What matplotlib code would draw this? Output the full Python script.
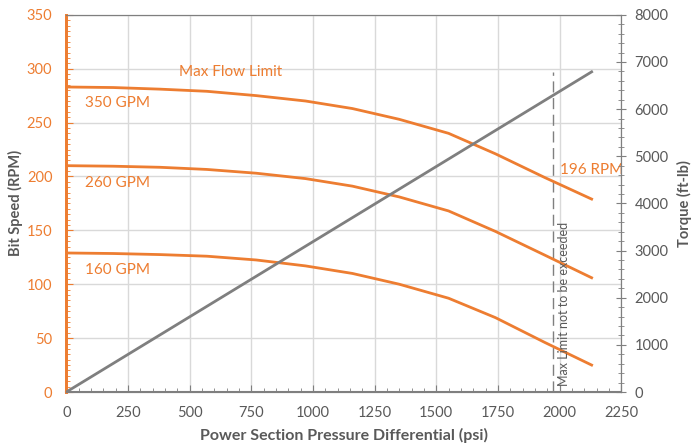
import matplotlib.pyplot as plt
from matplotlib.ticker import MultipleLocator

plt.rcParams['font.family'] = ['Lato', 'DejaVu Sans']

naranja = '#ED7D31'
gris = '#7F7F7F'
texto = '#595959'

# presion diferencial (psi)
presion = [0, 190, 380, 570, 770, 970, 1160, 1350, 1550, 1740, 1940, 2130]
# velocidad de la broca (RPM) por caudal
rpm_350 = [283, 282.5, 281, 279, 275, 270, 263, 253, 240, 221, 199, 179]
rpm_260 = [210, 209.5, 208.5, 206.5, 203, 198, 191, 181, 168, 149, 127, 106]
rpm_160 = [129, 128.5, 127.5, 126, 122.5, 117, 110, 100, 87, 69, 46, 25]
# torque (ft-lb)
torque_x = [0, 2130]
torque = [0, 6790]
limite_x = 1975
limite_y = 297

fig, ax = plt.subplots(figsize=(6.98, 4.48), dpi=100)
fig.subplots_adjust(left=0.095, right=0.89, top=0.967, bottom=0.125)
ax2 = ax.twinx()

for serie in [rpm_350, rpm_260, rpm_160]:
    ax.plot(presion, serie, color=naranja, lw=2, zorder=3)
ax2.plot(torque_x, torque, color=gris, lw=2, zorder=3)
ax.plot([limite_x, limite_x], [0, limite_y], color=gris, lw=1, ls=(0, (8, 4)), zorder=2)

ax.set_xlim(0, 2250)
ax.set_ylim(0, 350)
ax2.set_ylim(0, 8000)
ax.xaxis.set_major_locator(MultipleLocator(250))
ax.xaxis.set_minor_locator(MultipleLocator(50))
ax.yaxis.set_major_locator(MultipleLocator(50))
ax.yaxis.set_minor_locator(MultipleLocator(5))
ax2.yaxis.set_major_locator(MultipleLocator(1000))
ax2.yaxis.set_minor_locator(MultipleLocator(200))

ax.grid(True, which='major', color='#D9D9D9', lw=1)
ax.set_axisbelow(True)

for s in ['top', 'right', 'bottom']:
    ax.spines[s].set_color(gris)
    ax2.spines[s].set_color(gris)
ax.spines['left'].set_color(naranja)
ax2.spines['left'].set_color(naranja)
ax.spines['left'].set_linewidth(2)
ax2.spines['left'].set_linewidth(2)
ax.spines['bottom'].set_linewidth(1.5)

ax.tick_params(axis='x', which='both', direction='in', colors=gris, labelcolor=texto, labelsize=10.5, pad=10)
ax.tick_params(axis='x', which='major', length=5)
ax.tick_params(axis='x', which='minor', length=3)
ax.tick_params(axis='y', which='both', direction='in', colors=naranja, labelcolor=naranja, labelsize=10.5, pad=10)
ax.tick_params(axis='y', which='major', length=5)
ax.tick_params(axis='y', which='minor', length=3)
ax2.tick_params(axis='y', which='both', direction='inout', colors=gris, labelcolor=texto, labelsize=10.5, pad=6)
ax2.tick_params(axis='y', which='major', length=7)
ax2.tick_params(axis='y', which='minor', length=4)

ax.set_xlabel('Power Section Pressure Differential (psi)', fontsize=11.5, fontweight='bold', color=texto, labelpad=6)
ax.set_ylabel('Bit Speed (RPM)', fontsize=10.5, fontweight='bold', color=texto, labelpad=10)
ax.yaxis.set_label_coords(-0.078, 0.5)
ax2.set_ylabel('Torque (ft-lb)', fontsize=10.5, fontweight='bold', color=texto, labelpad=6)

ax.text(455, 297, 'Max Flow Limit', color=naranja, fontsize=11, va='center')
ax.text(77, 268, '350 GPM', color=naranja, fontsize=11, va='center')
ax.text(77, 194, '260 GPM', color=naranja, fontsize=11, va='center')
ax.text(77, 113, '160 GPM', color=naranja, fontsize=11, va='center')
ax.text(2000, 206, '196 RPM', color=naranja, fontsize=11, va='center')
ax.text(limite_x + 20, 6, 'Max Limit not to be exceeded', color=texto, fontsize=9,
        rotation=90, ha='left', va='bottom')

plt.savefig('out.png', dpi=100)
